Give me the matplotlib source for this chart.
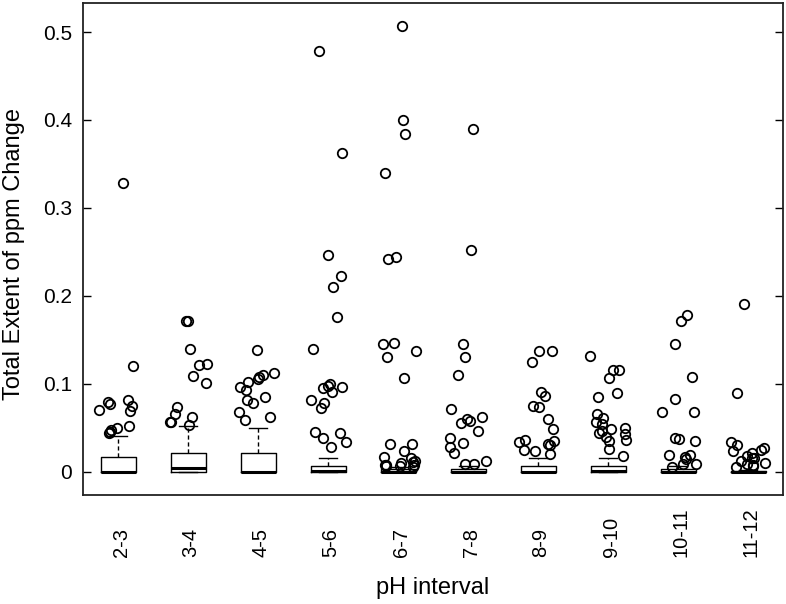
import matplotlib

matplotlib.use("Agg")
import matplotlib.pyplot as plt
import matplotlib.transforms as mtransforms
import numpy as np

plt.rcParams["font.family"] = ["Liberation Sans", "DejaVu Sans"]

INTERVALS = ["2-3", "3-4", "4-5", "5-6", "6-7", "7-8", "8-9", "9-10", "10-11", "11-12"]

# box statistics (lower whisker and Q1 sit at 0)
Q1 = [0, 0, 0, 0, 0, 0, 0, 0, 0, 0]
MEDIAN = [0, 0.004, 0, 0.001, 0, 0, 0, 0.001, 0, 0]
Q3 = [0.017, 0.0215, 0.021, 0.0065, 0.0027, 0.003, 0.0065, 0.007, 0.003, 0.0012]
WHISK_HI = [0.041, 0.052, 0.050, 0.015, 0.005, 0.006, 0.015, 0.015, 0.006, 0.002]

# points beyond the upper whisker, one list per interval
OUT_2_3 = [0.328, 0.120, 0.082, 0.0795, 0.0766, 0.075, 0.070, 0.069,
           0.052, 0.050, 0.047, 0.0448, 0.0436]
OUT_3_4 = [0.171, 0.171, 0.139, 0.123, 0.121, 0.109, 0.101, 0.074,
           0.066, 0.062, 0.057, 0.057, 0.053]
OUT_4_5 = [0.138, 0.112, 0.110, 0.108, 0.105, 0.102, 0.0966, 0.093,
           0.085, 0.0815, 0.078, 0.068, 0.062, 0.059]
OUT_5_6 = [0.479, 0.362, 0.246, 0.2227, 0.210, 0.176, 0.139, 0.0993,
           0.097, 0.096, 0.095, 0.091, 0.0815, 0.078, 0.072, 0.0448,
           0.0445, 0.038, 0.034, 0.0277]
OUT_6_7 = [0.507, 0.3997, 0.3845, 0.340, 0.2436, 0.2417, 0.146, 0.1448,
           0.137, 0.1307, 0.107, 0.032, 0.031, 0.0235, 0.017, 0.015,
           0.012, 0.0114, 0.010, 0.008, 0.008, 0.0074, 0.0065, 0.006,
           0.0055]
OUT_7_8 = [0.3894, 0.2516, 0.145, 0.1307, 0.110, 0.0709, 0.062, 0.060,
           0.058, 0.055, 0.0466, 0.0386, 0.033, 0.0277, 0.021, 0.012,
           0.009, 0.0084]
OUT_8_9 = [0.1375, 0.1375, 0.125, 0.091, 0.086, 0.0747, 0.074, 0.0595,
           0.048, 0.036, 0.035, 0.034, 0.032, 0.030, 0.0247, 0.023,
           0.0198]
OUT_9_10 = [0.1315, 0.1156, 0.1156, 0.107, 0.089, 0.0845, 0.0656, 0.0614,
            0.056, 0.054, 0.050, 0.048, 0.046, 0.044, 0.043, 0.0398,
            0.0357, 0.035, 0.0258, 0.0178]
OUT_10_11 = [0.1777, 0.171, 0.145, 0.108, 0.0826, 0.068, 0.068, 0.038,
             0.037, 0.035, 0.0195, 0.019, 0.0164, 0.014, 0.009, 0.009,
             0.005]
OUT_11_12 = [0.1905, 0.089, 0.0334, 0.030, 0.0273, 0.025, 0.024, 0.021,
             0.018, 0.016, 0.015, 0.0123, 0.010, 0.0088, 0.008, 0.007,
             0.005]
OUTLIERS = [OUT_2_3, OUT_3_4, OUT_4_5, OUT_5_6, OUT_6_7, OUT_7_8, OUT_8_9,
            OUT_9_10, OUT_10_11, OUT_11_12]

Y_TICKS = [0, 0.1, 0.2, 0.3, 0.4, 0.5]


def main():
    fig = plt.figure(figsize=(7.86, 6.04), dpi=100)
    ax = fig.add_axes([0.1056, 0.1805, 0.8906, 0.8145])

    stats = []
    for i, lab in enumerate(INTERVALS):
        stats.append(dict(label=lab, whislo=Q1[i], q1=Q1[i], med=MEDIAN[i],
                          q3=Q3[i], whishi=WHISK_HI[i], fliers=[]))
    pos = np.arange(1, len(INTERVALS) + 1)
    ax.bxp(stats, positions=pos, widths=0.5, showfliers=False,
           boxprops=dict(color="black", lw=1.0),
           whiskerprops=dict(color="black", lw=1.0, ls=(0, (3, 2))),
           capprops=dict(color="black", lw=1.0),
           medianprops=dict(color="black", lw=2.2))

    # jittered outliers (horizontal jitter only, like R's jitter())
    rng = np.random.default_rng(7)
    for p, vals in zip(pos, OUTLIERS):
        xs = p + rng.uniform(-0.27, 0.27, len(vals))
        ax.plot(xs, vals, "o", mfc="none", mec="black", ms=6.8, mew=1.3)

    ax.set_xlim(0.5, 10.5)
    ax.set_ylim(-0.0265, 0.533)
    ax.set_yticks(Y_TICKS)
    ax.set_yticklabels([f"{v:g}" for v in Y_TICKS])
    ax.set_xticks(pos)
    # labels share a common start (bottom), as in the original
    ax.set_xticklabels(INTERVALS, rotation=90, va="bottom", ha="center")
    ax.tick_params(axis="y", direction="in", length=6, width=1.0,
                   right=True, labelsize=15, pad=8)
    ax.tick_params(axis="x", length=0, labelsize=14.5, pad=44.5)
    off = mtransforms.ScaledTranslation(3 / 100, 0, fig.dpi_scale_trans)
    for t in ax.get_xticklabels():
        t.set_transform(t.get_transform() + off)
    for s in ax.spines.values():
        s.set_linewidth(1.3)
        s.set_color("#222222")

    ax.set_xlabel("pH interval", fontsize=17, va="center")
    ax.xaxis.set_label_coords(0.5, -0.189)
    ax.set_ylabel("Total Extent of ppm Change", fontsize=17, va="center")
    ax.yaxis.set_label_coords(-0.098, 0.489)

    fig.savefig("out.png", dpi=100)
    plt.close(fig)


if __name__ == "__main__":
    main()
